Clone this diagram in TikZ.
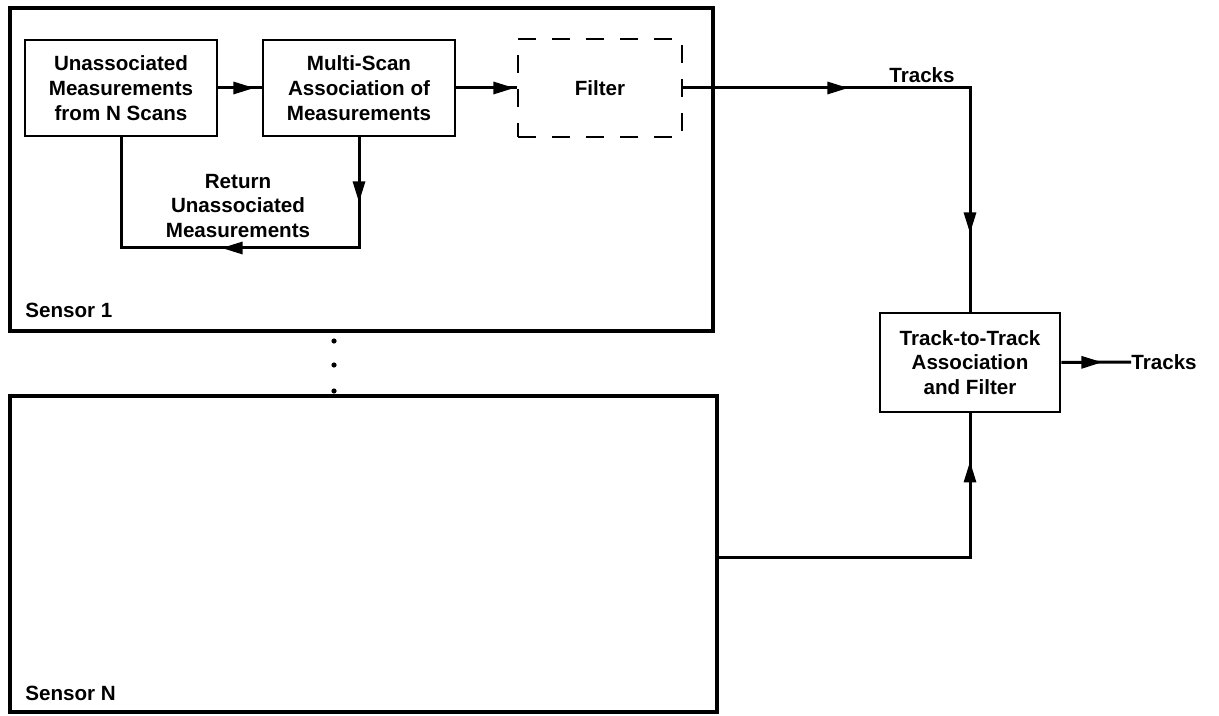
\documentclass[tikz,border=0pt]{standalone}
\usepackage{fontspec}
\setmainfont{Liberation Sans}
\usetikzlibrary{arrows.meta,decorations.markings}
\begin{document}
\begin{tikzpicture}[x=0.5pt,y=-0.5pt,
  every node/.style={font=\fontsize{10.3}{12.4}\selectfont\bfseries},
  blk/.style={draw,line width=1.4pt,align=center,inner sep=0pt},
  dashblk/.style={draw,line width=1.4pt,align=center,inner sep=0pt,dash pattern=on 9pt off 8pt},
  sensorbox/.style={draw,line width=1.6pt,inner sep=0pt},
  conn/.style={line width=1.5pt},
  amark/.style={postaction={decorate},decoration={markings,mark=at position #1 with {\arrow{Triangle[length=10.5pt,width=6pt]}}}},
  amarktwo/.style 2 args={postaction={decorate},decoration={markings,
     mark=at position #1 with {\arrow{Triangle[length=10.5pt,width=6pt]}},
     mark=at position #2 with {\arrow{Triangle[length=10.5pt,width=6pt]}}}},
  lbl/.style={inner sep=0pt,align=center}
]
\useasboundingbox (0,0) rectangle (1219,716);

% sensor boxes
\node[sensorbox,minimum width=351.5pt,minimum height=161.5pt] (s1) at (361.5,169.5) {};
\node[sensorbox,minimum width=353.5pt,minimum height=158pt] (sn) at (363.5,554) {};
\node[lbl,anchor=west] (s1lbl) at (25,310) {Sensor 1};
\node[lbl,anchor=west] (snlbl) at (25,693) {Sensor N};

% inner blocks
\node[blk,minimum width=96pt,minimum height=48pt] (ua) at (121,88)
  {Unassociated\\Measurements\\from N Scans};
\node[blk,minimum width=96pt,minimum height=48pt] (ms) at (359,88)
  {Multi-Scan\\Association of\\Measurements};
\node[dashblk,minimum width=82pt,minimum height=49pt] (fi) at (600,88) {Filter};
\node[blk,minimum width=90pt,minimum height=49.5pt] (tt) at (970,362.5)
  {Track-to-Track\\Association\\and Filter};

% labels
\node[lbl] (ret) at (238,206) {Return\\Unassociated\\Measurements};
\node[lbl] (trk1) at (922,75) {Tracks};
\node[lbl,anchor=west] (trk2) at (1131,362) {Tracks};

% dots
\foreach \yy [count=\i] in {341,365,391}
  \fill (334,\yy) circle (1.3pt) coordinate (dot\i);

% connectors
\draw[conn,amark=18pt] (ua.east) -- (ms.west);
\draw[conn,amark=29pt] (ms.east) -- (fi.west);
\draw[conn,amarktwo={82.5pt}{216pt}] (fi.east) -- (tt.north |- fi.east) -- (tt.north);
\draw[conn,amark=173.5pt] (sn.east |- 0,557) -- (tt.south |- 0,557) -- (tt.south);
\draw[conn,amark=20.5pt] (tt.east) -- (trk2.west);
\draw[conn,amarktwo={32.5pt}{124pt}] (ms.south) -- (ms.south |- 0,248) -- (ua.south |- 0,248) -- (ua.south);
\end{tikzpicture}
\end{document}
